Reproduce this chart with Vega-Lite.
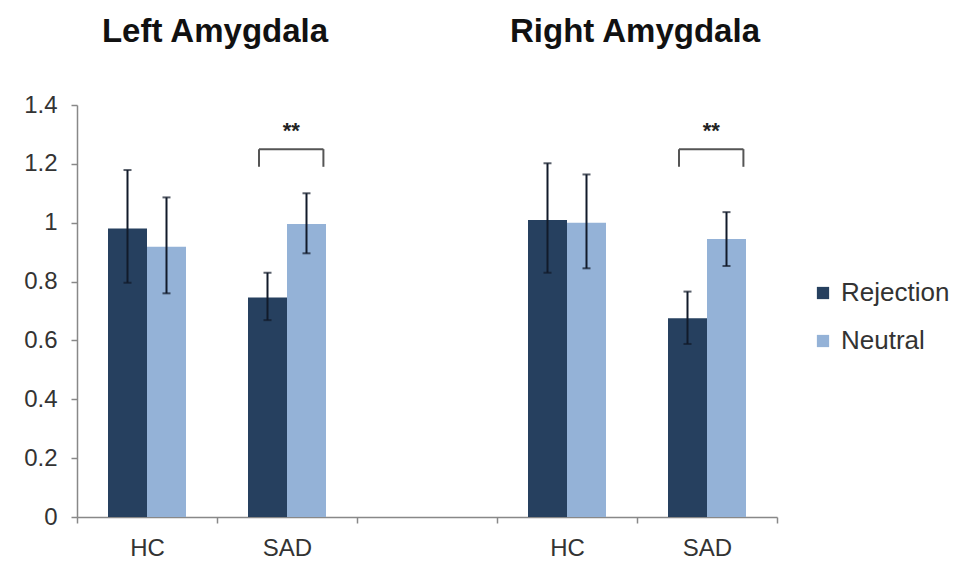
{
  "$schema": "https://vega.github.io/schema/vega-lite/v6.json",
  "width": 700,
  "height": 412,
  "autosize": {"type": "none"},
  "padding": {"left": 77, "top": 105, "right": 183, "bottom": 53},
  "background": "white",
  "config": {
    "view": {"stroke": null},
    "font": "Liberation Sans"
  },
  "datasets": {
    "bars": [
      {"grp": "L_HC", "cond": "Rejection", "mean": 0.98, "lo": 0.796, "hi": 1.179},
      {"grp": "L_HC", "cond": "Neutral", "mean": 0.918, "lo": 0.76, "hi": 1.086},
      {"grp": "L_SAD", "cond": "Rejection", "mean": 0.746, "lo": 0.669, "hi": 0.83},
      {"grp": "L_SAD", "cond": "Neutral", "mean": 0.996, "lo": 0.896, "hi": 1.1},
      {"grp": "R_HC", "cond": "Rejection", "mean": 1.009, "lo": 0.83, "hi": 1.202},
      {"grp": "R_HC", "cond": "Neutral", "mean": 1.0, "lo": 0.845, "hi": 1.164},
      {"grp": "R_SAD", "cond": "Rejection", "mean": 0.675, "lo": 0.588, "hi": 0.766},
      {"grp": "R_SAD", "cond": "Neutral", "mean": 0.945, "lo": 0.853, "hi": 1.036}
    ],
    "brackets": [
      {"grp": "L_SAD", "low": 1.19, "high": 1.25, "star": 1.31, "label": "**"},
      {"grp": "R_SAD", "low": 1.19, "high": 1.25, "star": 1.31, "label": "**"}
    ],
    "titles": [
      {"grp": "L_SAD", "y": 1.648, "title": "Left Amygdala"},
      {"grp": "R_SAD", "y": 1.648, "title": "Right Amygdala"}
    ]
  },
  "encoding": {
    "x": {
      "field": "grp",
      "type": "nominal",
      "scale": {"domain": ["L_HC", "L_SAD", "gap", "R_HC", "R_SAD"], "paddingInner": 0, "paddingOuter": 0},
      "axis": {
        "title": null,
        "labelExpr": "datum.value == 'gap' ? '' : split(datum.value, '_')[1]",
        "labelAngle": 0,
        "labelFontSize": 24,
        "labelColor": "#333333",
        "labelPadding": 13,
        "tickBand": "extent",
        "tickSize": 6,
        "tickColor": "#888888",
        "domainColor": "#888888",
        "domainWidth": 1.5,
        "tickWidth": 1.5
      }
    }
  },
  "layer": [
    {
      "data": {"name": "bars"},
      "mark": {"type": "bar"},
      "encoding": {
        "xOffset": {"field": "cond", "type": "nominal", "scale": {"domain": ["Rejection", "Neutral"], "paddingOuter": 0.795, "paddingInner": 0}},
        "y": {
          "field": "mean",
          "type": "quantitative",
          "scale": {"domain": [0, 1.4], "nice": false},
          "axis": {
            "title": null,
            "values": [0, 0.2, 0.4, 0.6, 0.8, 1, 1.2, 1.4],
            "format": ".1~f",
            "grid": false,
            "labelFontSize": 24,
            "labelColor": "#333333",
            "labelPadding": 14,
            "tickSize": 6,
            "tickColor": "#888888",
            "domainColor": "#888888",
            "domainWidth": 1.5,
            "tickWidth": 1.5
          }
        },
        "color": {
          "field": "cond",
          "type": "nominal",
          "scale": {"domain": ["Rejection", "Neutral"], "range": ["#26405f", "#94b2d7"]},
          "legend": {
            "title": null,
            "orient": "none",
            "legendX": 733,
            "legendY": 175,
            "padding": 0,
            "symbolType": "square",
            "symbolSize": 150,
            "symbolStrokeWidth": 0,
            "labelFontSize": 26,
            "labelColor": "#333333",
            "labelOffset": 5,
            "rowPadding": 22
          }
        }
      }
    },
    {
      "data": {"name": "bars"},
      "mark": {"type": "rule", "color": "#111a2a", "strokeWidth": 2},
      "encoding": {
        "xOffset": {"field": "cond", "type": "nominal"},
        "y": {"field": "lo", "type": "quantitative"},
        "y2": {"field": "hi"}
      }
    },
    {
      "data": {"name": "bars"},
      "mark": {"type": "tick", "color": "#111a2a", "thickness": 2, "size": 8},
      "encoding": {
        "xOffset": {"field": "cond", "type": "nominal"},
        "y": {"field": "lo", "type": "quantitative"}
      }
    },
    {
      "data": {"name": "bars"},
      "mark": {"type": "tick", "color": "#111a2a", "thickness": 2, "size": 8},
      "encoding": {
        "xOffset": {"field": "cond", "type": "nominal"},
        "y": {"field": "hi", "type": "quantitative"}
      }
    },
    {
      "data": {"name": "brackets"},
      "mark": {"type": "rule", "color": "#555555", "strokeWidth": 2},
      "encoding": {
        "x": {"field": "grp", "type": "nominal", "bandPosition": 0.3},
        "x2": {"field": "grp", "bandPosition": 0.76},
        "y": {"field": "high", "type": "quantitative"}
      }
    },
    {
      "data": {"name": "brackets"},
      "mark": {"type": "rule", "color": "#555555", "strokeWidth": 2},
      "encoding": {
        "x": {"field": "grp", "type": "nominal", "bandPosition": 0.3},
        "y": {"field": "low", "type": "quantitative"},
        "y2": {"field": "high"}
      }
    },
    {
      "data": {"name": "brackets"},
      "mark": {"type": "rule", "color": "#555555", "strokeWidth": 2},
      "encoding": {
        "x": {"field": "grp", "type": "nominal", "bandPosition": 0.76},
        "y": {"field": "low", "type": "quantitative"},
        "y2": {"field": "high"}
      }
    },
    {
      "data": {"name": "brackets"},
      "mark": {"type": "text", "fontSize": 22, "fontWeight": "bold", "color": "#222222", "baseline": "middle"},
      "encoding": {
        "x": {"field": "grp", "type": "nominal", "bandPosition": 0.53},
        "y": {"field": "star", "type": "quantitative"},
        "text": {"field": "label"}
      }
    },
    {
      "data": {"name": "titles"},
      "mark": {"type": "text", "fontSize": 33, "fontWeight": "bold", "color": "#111111", "baseline": "middle", "dx": -2},
      "encoding": {
        "x": {"field": "grp", "type": "nominal", "bandPosition": 0},
        "y": {"field": "y", "type": "quantitative"},
        "text": {"field": "title"}
      }
    }
  ]
}
